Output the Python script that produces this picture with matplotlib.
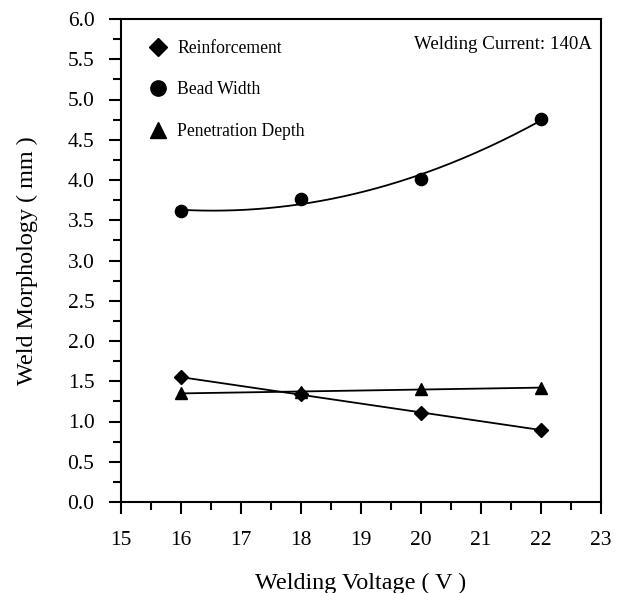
import numpy as np
import matplotlib.pyplot as plt
from matplotlib.lines import Line2D
from matplotlib.ticker import MultipleLocator

plt.rcParams["font.family"] = ["Liberation Serif", "DejaVu Serif"]

voltage = [16, 18, 20, 22]
reinforcement = [1.55, 1.34, 1.10, 0.90]
bead_width = [3.61, 3.76, 4.01, 4.76]
penetration = [1.35, 1.37, 1.40, 1.42]

fig = plt.figure(figsize=(6.25, 5.93), dpi=100)
ax = fig.add_axes([121 / 625, 1 - 502 / 593, 480 / 625, 483 / 593])

# fitted trend lines through the measured points
xs = np.linspace(16, 22, 200)
for vals, deg in [(reinforcement, 1), (bead_width, 2), (penetration, 1)]:
    coef = np.polyfit(voltage, vals, deg)
    ax.plot(xs, np.polyval(coef, xs), color="black", lw=1.3)

mk = dict(color="black", ls="none", clip_on=False)
ax.plot(voltage, reinforcement, marker="D", ms=7, **mk)
ax.plot(voltage, bead_width, marker="o", ms=8.8, **mk)
ax.plot(voltage, penetration, marker="^", ms=8.8, **mk)

ax.set_xlim(15, 23)
ax.set_ylim(0, 6)
ax.xaxis.set_major_locator(MultipleLocator(1))
ax.xaxis.set_minor_locator(MultipleLocator(0.5))
ax.yaxis.set_major_locator(MultipleLocator(0.5))
ax.yaxis.set_minor_locator(MultipleLocator(0.25))
ax.yaxis.set_major_formatter(lambda v, p: f"{v:.1f}")

for s in ax.spines.values():
    s.set_linewidth(1.5)
ax.tick_params(which="both", direction="out", width=1.5, labelsize=15.5)
ax.tick_params(which="major", length=8.6)
ax.tick_params(which="minor", length=5.8)
ax.tick_params(axis="x", which="major", pad=12.5)
ax.tick_params(axis="y", which="major", pad=10.5)

ax.set_xlabel("Welding Voltage ( V )", fontsize=17.4)
ax.set_ylabel("Weld Morphology ( mm )", fontsize=17.4)
ax.xaxis.set_label_coords(0.5, -0.147)
ax.yaxis.set_label_coords(-0.173, 0.5)

handles = [
    Line2D([], [], color="black", ls="none", marker="D", ms=9),
    Line2D([], [], color="black", ls="none", marker="o", ms=11),
    Line2D([], [], color="black", ls="none", marker="^", ms=11),
]
ax.legend(
    handles,
    ["Reinforcement", "Bead Width", "Penetration Depth"],
    loc="upper left",
    bbox_to_anchor=(0.059, 0.957),
    frameon=False,
    fontsize=12.7,
    handlelength=1,
    handletextpad=0.58,
    labelspacing=1.4,
    borderpad=0,
    borderaxespad=0,
)

ax.text(0.981, 0.948, "Welding Current: 140A", transform=ax.transAxes,
        ha="right", va="center", fontsize=13.6)

fig.savefig("out.png", dpi=100)
